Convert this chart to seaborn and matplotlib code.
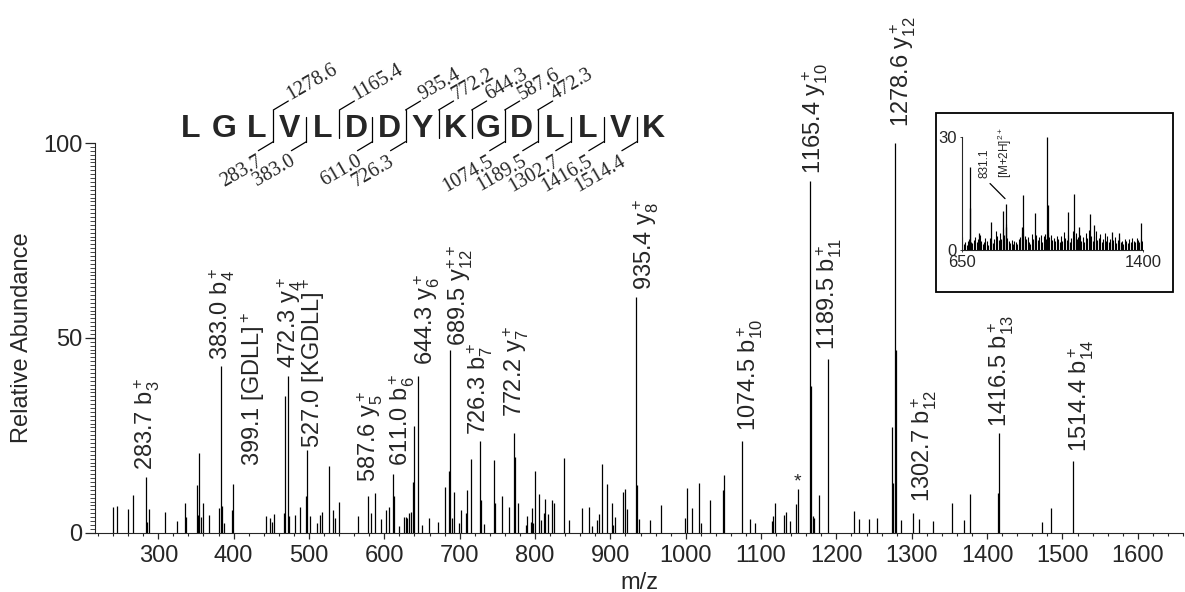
import matplotlib
matplotlib.use('Agg')
import numpy as np
import pandas as pd
import matplotlib.pyplot as plt
import seaborn as sns
from matplotlib.lines import Line2D
from matplotlib.patches import Rectangle
from matplotlib.ticker import MultipleLocator

# MS/MS peaks (m/z, relative abundance)
peak_mz = [239.4, 245.6, 260.2, 266.4, 283.7, 285.4, 287.1, 308.9, 324.8, 335.4,
           337.1, 351.3, 353.0, 354.4, 356.1, 359.3, 367.2, 380.5, 383.0, 384.9,
           386.6, 397.7, 399.1, 442.8, 447.6, 450.8, 453.5, 466.7, 468.0, 472.3,
           474.1, 481.3, 488.3, 496.7, 497.5, 500.7, 510.5, 514.9, 517.1, 526.4,
           532.5, 534.8, 540.5, 565.7, 578.1, 582.1, 587.8, 595.8, 602.0, 606.4,
           611.3, 613.0, 619.2, 625.9, 628.5, 630.3, 633.3, 635.6, 637.8, 639.5,
           644.8, 650.5, 659.0, 671.4, 680.2, 686.0, 687.7, 689.9, 693.0, 699.6,
           701.5, 708.5, 709.4, 715.1, 727.1, 728.0, 732.0, 745.2, 747.0, 755.9,
           765.9, 772.2, 773.5, 777.1, 787.7, 789.4, 794.7, 796.0, 797.3, 800.4,
           805.3, 807.5, 812.0, 813.3, 817.7, 822.6, 825.6, 838.5, 844.7, 862.0,
           871.2, 875.2, 881.8, 885.3, 888.5, 895.1, 902.5, 903.5, 906.1, 917.1,
           919.8, 921.6, 934.0, 935.7, 937.5, 952.5, 967.5, 998.6, 1001.6, 1008.2,
           1017.9, 1020.6, 1032.1, 1049.8, 1050.7, 1074.6, 1085.6, 1091.8, 1113.9, 1115.2,
           1118.3, 1129.9, 1132.5, 1138.6, 1146.6, 1148.4, 1164.4, 1165.8, 1168.4, 1170.0,
           1176.7, 1189.0, 1223.5, 1230.1, 1243.0, 1254.0, 1273.9, 1275.0, 1277.5, 1278.5,
           1285.4, 1301.0, 1309.3, 1327.9, 1353.5, 1369.0, 1377.0, 1415.0, 1416.3, 1473.4,
           1485.3, 1514.0]
peak_int = [6.7, 6.9, 6.1, 9.7, 14.4, 2.7, 6.1, 5.3, 2.9, 7.7,
            4.1, 12.3, 4.5, 20.4, 4.1, 7.7, 4.5, 6.3, 42.7, 6.9,
            2.4, 5.7, 12.5, 4.3, 3.8, 2.7, 4.8, 5.1, 35.0, 40.1,
            4.4, 4.5, 6.7, 9.3, 21.3, 4.4, 2.4, 4.5, 5.2, 17.0,
            5.8, 3.7, 7.9, 4.3, 9.3, 5.0, 10.1, 3.6, 5.8, 6.5,
            15.0, 9.4, 1.7, 4.1, 4.1, 3.9, 5.0, 5.4, 13.0, 27.4,
            40.3, 2.0, 3.9, 2.7, 11.7, 15.9, 46.8, 3.9, 10.5, 2.6,
            5.8, 5.0, 11.0, 19.0, 23.6, 8.4, 2.2, 18.7, 7.5, 9.4,
            6.7, 25.5, 19.4, 7.7, 2.0, 4.4, 2.7, 6.3, 2.4, 15.9,
            9.9, 3.3, 5.1, 8.7, 4.8, 8.4, 7.5, 19.1, 3.3, 6.3,
            6.7, 1.7, 3.3, 4.8, 17.6, 12.4, 7.5, 2.0, 4.1, 10.5,
            11.1, 6.0, 60.4, 12.3, 3.4, 3.3, 7.0, 3.9, 11.4, 6.4,
            12.7, 2.4, 8.4, 11.0, 14.7, 23.6, 3.4, 2.6, 3.1, 4.4,
            7.7, 4.5, 5.3, 3.1, 7.4, 11.1, 90.2, 37.7, 4.3, 3.9,
            9.7, 44.6, 5.6, 3.5, 3.4, 3.9, 27.0, 12.7, 100.0, 47.0,
            3.3, 5.0, 3.4, 3.1, 7.7, 3.3, 9.9, 10.1, 25.7, 2.8,
            6.4, 18.3]

# peak annotations: text position (m/z, abundance) and text
label_mz = [285.0, 384.5, 426.4, 475.1, 506.0, 581.2, 623.2, 656.4, 700.5, 727.1,
            775.7, 947.2, 1085.2, 1171.4, 1191.0, 1288.5, 1317.3, 1419.0, 1525.1]
label_y = [16.1, 44.4, 17.0, 42.3, 21.8, 13.1, 17.0, 43.1, 47.8, 25.1,
           29.8, 62.4, 26.0, 92.0, 47.0, 104.0, 8.0, 27.2, 20.8]
label_text = [r'283.7 b$_3^+$', r'383.0 b$_4^+$', r'399.1 [GDLL]$^+$', r'472.3 y$_4^+$',
              r'527.0 [KGDLL]$^+$', r'587.6 y$_5^+$', r'611.0 b$_6^+$', r'644.3 y$_6^+$',
              r'689.5 y$_{12}^{++}$', r'726.3 b$_7^+$', r'772.2 y$_7^+$', r'935.4 y$_8^+$',
              r'1074.5 b$_{10}^+$', r'1165.4 y$_{10}^+$', r'1189.5 b$_{11}^+$',
              r'1278.6 y$_{12}^+$', r'1302.7 b$_{12}^+$', r'1416.5 b$_{13}^+$',
              r'1514.4 b$_{14}^+$']

# peptide sequence and fragment ladders
peptide = "LGLVLDDYKGDLLVK"
b_sites = [3, 4, 6, 7, 10, 11, 12, 13, 14]
b_labels = ['283.7', '383.0', '611.0', '726.3', '1074.5', '1189.5', '1302.7', '1416.5', '1514.4']
y_sites = [3, 5, 7, 8, 9, 10, 11]
y_labels = ['1278.6', '1165.4', '935.4', '772.2', '644.3', '587.6', '472.3']

# inset full-scan spectrum (650-1400)
inset_noise_mz = [652, 658, 664, 670, 676, 682, 688, 694, 700, 706, 712, 718, 724, 730, 736,
                  742, 748, 754, 760, 766, 772, 778, 784, 790, 796, 802, 808, 814, 820, 826,
                  832, 838, 844, 850, 856, 862, 868, 874, 880, 886, 892, 898, 904, 910, 916,
                  922, 928, 934, 940, 946, 952, 958, 964, 970, 976, 982, 988, 994, 1000, 1006,
                  1012, 1018, 1024, 1030, 1036, 1042, 1048, 1054, 1060, 1066, 1072, 1078, 1084,
                  1090, 1096, 1102, 1108, 1114, 1120, 1126, 1132, 1138, 1144, 1150, 1156, 1162,
                  1168, 1174, 1180, 1186, 1192, 1198, 1204, 1210, 1216, 1222, 1228, 1234, 1240,
                  1246, 1252, 1258, 1264, 1270, 1276, 1282, 1288, 1294, 1300, 1306, 1312, 1318,
                  1324, 1330, 1336, 1342, 1348, 1354, 1360, 1366, 1372, 1378, 1384, 1390, 1396]
inset_noise_int = [3.5, 1.5, 2.0, 1.2, 2.5, 3.0, 2.2, 1.8, 2.6, 3.4, 2.1, 2.8, 3.9, 2.4, 1.6,
                   2.0, 3.1, 2.5, 1.4, 3.3, 2.2, 1.8, 2.9, 5.0, 3.6, 2.7, 4.4, 3.0, 5.5, 4.1,
                   7.0, 3.2, 2.4, 1.9, 2.6, 1.7, 2.3, 2.0, 1.5, 2.8, 3.5, 4.6, 5.5, 3.8, 2.9,
                   3.4, 2.1, 1.6, 4.2, 3.0, 2.3, 3.9, 2.6, 3.4, 4.1, 2.2, 3.7, 4.3, 3.0, 4.8,
                   3.5, 4.0, 2.7, 3.3, 2.5, 3.8, 2.9, 2.1, 3.6, 2.4, 4.7, 3.1, 2.6,
                   3.9, 2.0, 3.2, 5.1, 3.6, 4.4, 2.8, 3.5, 4.0, 2.3, 3.4, 2.1, 4.6,
                   3.2, 5.3, 2.9, 3.8, 2.4, 3.6, 5.0, 2.6, 3.1, 4.2, 2.2, 3.0, 4.4,
                   2.5, 3.7, 2.0, 2.9, 1.8, 2.6, 3.4, 1.9, 2.7, 3.5, 2.1, 2.4, 1.7,
                   3.0, 2.3, 1.9, 2.8, 2.2, 3.1, 2.5, 2.0, 3.3, 2.6, 2.1, 3.0, 2.4]
inset_peak_mz = [684, 686, 720, 771, 821, 831.1, 835, 900, 904.6, 952.7, 1003.6, 1004.5,
                 1087.6, 1115, 1134, 1179.8, 1197.7, 1269, 1301, 1389]
inset_peak_int = [22.0, 11.0, 4.5, 7.3, 10.4, 12.2, 6.2, 6.0, 14.6, 9.7, 30.0, 12.0,
                  10.0, 14.7, 6.2, 9.5, 6.6, 4.7, 4.4, 7.1]

sns.set_style('ticks')
plt.rcParams['font.family'] = ['Liberation Sans', 'DejaVu Sans']
plt.rcParams['mathtext.fontset'] = 'custom'
plt.rcParams['mathtext.rm'] = 'Liberation Sans'
plt.rcParams['mathtext.it'] = 'Liberation Sans:italic'
plt.rcParams['mathtext.default'] = 'regular'

W, H = 1185, 592


def P(x, y):
    # pixel position -> figure fraction
    return x / W, 1 - y / H


spec = pd.DataFrame({'mz': peak_mz, 'intensity': peak_int})

fig = plt.figure(figsize=(W / 100, H / 100), dpi=100)
ax = fig.add_axes([95 / W, 1 - 532.7 / H, 1088 / W, 389.7 / H])
ax.vlines(spec['mz'], 0, spec['intensity'], colors='black', linewidth=0.9, clip_on=False)
ax.set_xlim(216, 1660)
ax.set_ylim(0, 100)
sns.despine(ax=ax)

ax.xaxis.set_major_locator(MultipleLocator(100))
ax.xaxis.set_minor_locator(MultipleLocator(20))
ax.set_xticks(range(300, 1700, 100))
ax.set_yticks([0, 50, 100])
ax.yaxis.set_minor_locator(MultipleLocator(1))
ax.tick_params(axis='x', which='major', length=4, width=0.9, pad=5, labelsize=17)
ax.tick_params(axis='x', which='minor', length=2.2, width=0.8)
ax.tick_params(axis='y', which='major', length=7, width=0.9, pad=2, labelsize=17)
ax.tick_params(axis='y', which='minor', length=3.6, width=0.6)
ax.set_xlabel('m/z', fontsize=17)
ax.set_ylabel('Relative Abundance', fontsize=17)
ax.xaxis.set_label_coords(0.5, -0.1)
ax.yaxis.set_label_coords(-0.057, 0.5)

for x, y, t in zip(label_mz, label_y, label_text):
    ax.text(x, y, t, rotation=90, ha='center', va='bottom', fontsize=17, clip_on=False)
ax.text(1147.9, 12.9, '*', ha='center', va='center', fontsize=14)

# peptide sequence with fragment ladder
x0, step = 190.7, 33.05
for i, aa in enumerate(peptide):
    fig.text(*P(x0 + i * step, 137), aa, ha='center', va='baseline',
             fontsize=23, fontweight='bold')

serif = ['Liberation Serif', 'DejaVu Serif']
for site in sorted(set(b_sites) | set(y_sites)):
    bx = x0 + (site - 1) * step + step / 2
    top = 110 if site in y_sites else 116.7
    bottom = 141.7 if site in b_sites else 138
    xs, ys = zip(P(bx, top), P(bx, bottom))
    fig.add_artist(Line2D(xs, ys, transform=fig.transFigure, color='black', lw=0.9))
    if site in y_sites:
        xs, ys = zip(P(bx, top), P(bx + 15, top - 9))
        fig.add_artist(Line2D(xs, ys, transform=fig.transFigure, color='black', lw=0.9))
        fig.text(*P(bx + 17, top - 10), y_labels[y_sites.index(site)], rotation=30,
                 rotation_mode='anchor', ha='left', va='baseline', fontsize=14.5, family=serif)
    if site in b_sites:
        xs, ys = zip(P(bx, bottom), P(bx - 15, bottom + 9))
        fig.add_artist(Line2D(xs, ys, transform=fig.transFigure, color='black', lw=0.9))
        fig.text(*P(bx - 17, bottom + 10), b_labels[b_sites.index(site)], rotation=30,
                 rotation_mode='anchor', ha='right', va='top', fontsize=14.5, family=serif)

# inset with full scan
fig.add_artist(Rectangle(P(935.7, 291.7), 237 / W, 178.4 / H, transform=fig.transFigure,
                         fill=False, ec='black', lw=1.3))
axin = fig.add_axes([961.7 / W, 1 - 250 / H, 181.6 / W, 113.3 / H])
axin.vlines(inset_noise_mz, 0, inset_noise_int, colors='black', linewidth=0.8)
axin.vlines(inset_peak_mz, 0, inset_peak_int, colors='black', linewidth=0.9)
axin.set_xlim(650, 1400)
axin.set_ylim(0, 30)
axin.set_facecolor('none')
sns.despine(ax=axin)
axin.set_xticks([650, 1400])
axin.set_yticks([0, 30])
axin.tick_params(length=1.5, width=0.6, pad=2, labelsize=12)
axin.text(746, 19, '831.1', rotation=90, ha='center', va='bottom', fontsize=8.5)
axin.text(829, 19, r'[M+2H]$^{2+}$', rotation=90, ha='center', va='bottom', fontsize=8.5)
axin.plot([767, 829], [17.6, 13.6], color='black', lw=0.9, clip_on=False)

fig.savefig('out.png', dpi=100)
